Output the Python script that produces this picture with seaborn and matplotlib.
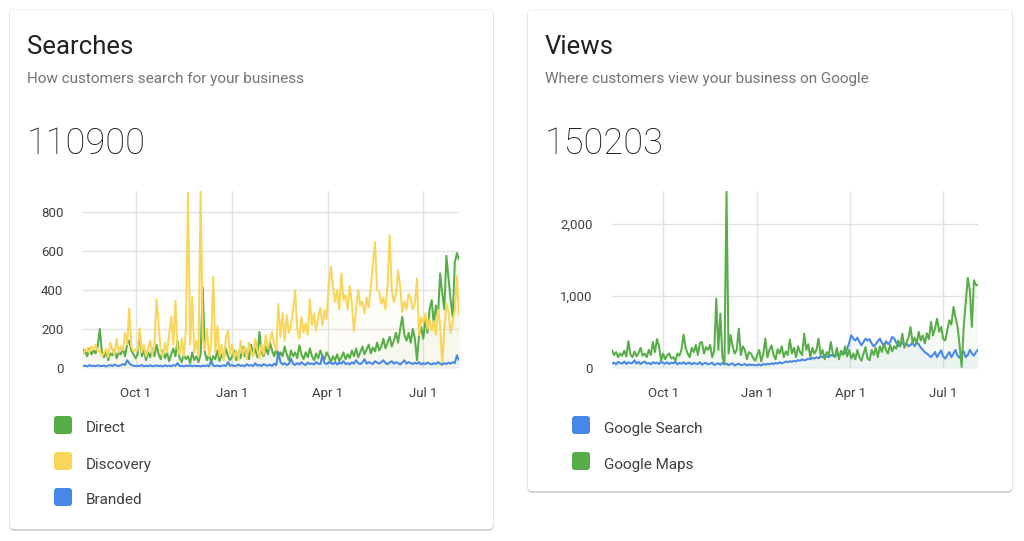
import numpy as np
import pandas as pd
import matplotlib
matplotlib.use("Agg")
import matplotlib.pyplot as plt
from matplotlib.patches import FancyBboxPatch
from matplotlib.ticker import FuncFormatter
import seaborn as sns

# ── data (one point every 2 days) ─────────────────────────
START = "2019-08-12"
STEP  = "2D"

direct = [95, 85, 60, 100, 70, 90, 75, 110, 200, 80, 55, 90, 40, 75, 65, 95, 50, 80, 70, 100,
          60, 120, 140, 90, 70, 50,
          70, 185, 60, 90, 40, 80, 55, 100, 60, 120, 70, 45, 90, 50, 80, 35, 70, 100, 60, 140,
          50, 30, 70, 45, 60, 25, 80, 40, 60, 30, 70, 412, 80, 40, 70, 30, 60, 45, 90, 35,
          70, 50, 100, 60, 40,
          60, 90, 40, 80, 50, 110, 60, 90, 45, 120, 70, 100, 55, 185, 80, 60, 110, 70, 130, 90,
          60, 100, 50, 80, 60, 110, 70, 40, 90, 60, 80, 50, 116, 70, 45, 80, 55, 100, 60, 40,
          75, 50, 90, 60, 45, 80, 60,
          30, 60, 40, 70, 35, 55, 80, 45, 70, 50, 90, 60, 100, 55, 80, 110, 70, 95, 120, 75,
          105, 85, 130, 90, 110, 150, 100, 130, 160, 110, 140, 180, 130, 200, 262, 170, 140, 180, 130, 200,
          150, 40, 170, 210, 150, 250, 180, 300, 347, 220, 320, 260, 484, 385, 300, 574, 460, 350, 262, 540,
          588, 555]

discovery = [70, 90, 100, 80, 110, 95, 120, 85, 90, 60, 75, 100, 55, 130, 90, 70, 150, 80, 110, 90,
             180, 120, 305, 110, 85, 95,
             90, 203, 80, 120, 60, 100, 140, 70, 110, 352, 225, 90, 60, 130, 80, 170, 262, 120, 344, 100,
             70, 150, 60, 200, 896, 120, 364, 80, 140, 60, 910, 150, 90, 200, 60, 130, 467, 80, 215, 60,
             120, 40, 150, 190, 70,
             120, 50, 90, 40, 140, 70, 110, 45, 130, 80, 60, 150, 90, 50, 120, 70, 168, 100, 140, 185,
             120, 90, 327, 160, 280, 140, 270, 180, 220, 296, 398, 200, 150, 260, 180, 230, 170, 350, 220, 280,
             190, 260, 310, 220, 296, 250, 430,
             518, 420, 338, 400, 300, 484, 350, 373, 300, 420, 330, 188, 300, 400, 320, 340, 280, 360, 310, 420,
             527, 646, 400, 390, 330, 360, 300, 420, 680, 400, 338, 380, 500, 420, 287, 340, 300, 380, 356, 300,
             330, 458, 168, 260, 230, 280, 200, 250, 190, 240, 170, 300, 220, 14, 200, 330, 287, 180, 233, 300,
             470, 278]

branded = [10, 12, 8, 15, 10, 12, 9, 14, 11, 10, 13, 8, 12, 15, 10, 18, 12, 10, 14, 20,
           15, 40, 25, 15, 12, 10,
           12, 10, 15, 8, 12, 10, 14, 9, 11, 13, 10, 12, 8, 14, 10, 12, 9, 15, 11, 25,
           10, 12, 8, 13, 10, 14, 9, 12, 10, 11, 8, 12, 10, 14, 9, 35, 12, 10, 13, 9,
           11, 14, 10, 30, 12,
           15, 10, 12, 18, 10, 14, 9, 20, 12, 15, 10, 25, 12, 16, 10, 20, 14, 12, 18, 10,
           22, 15, 82, 30, 18, 25, 15, 20, 48, 22, 16, 25, 18, 30, 20, 15, 28, 20, 24, 18,
           30, 22, 20, 65, 25, 20, 30,
           25, 20, 30, 18, 28, 22, 35, 20, 25, 18, 30, 22, 40, 25, 20, 28, 45, 22, 30, 25,
           20, 35, 28, 22, 30, 40, 25, 20, 28, 35, 22, 30, 25, 18, 28, 40, 22, 30, 25, 20,
           28, 22, 30, 18, 25, 20, 28, 22, 18, 25, 20, 30, 22, 18, 25, 20, 28, 22, 30, 25,
           65, 40]

google_search = [60, 75, 50, 85, 70, 60, 90, 55, 80, 65, 70, 107, 60, 85, 55, 75, 90, 60, 70, 50,
                 80, 65, 75, 55, 90, 70, 60, 80, 55, 75, 65, 85, 50, 70, 60, 80, 55, 65, 75, 50,
                 70, 60, 55, 80, 45, 65, 70, 50, 60, 75, 40, 55, 65, 45, 70, 50, 60, 40, 55, 65,
                 35, 50, 60, 40, 45, 55, 35, 50, 40, 45, 37,
                 40, 50, 35, 55, 45, 60, 50, 65, 55, 70, 60, 80, 65, 75, 90, 80, 95, 85, 100, 90,
                 110, 100, 120, 105, 115, 130, 120, 140, 130, 148, 135, 160, 150, 176, 160, 150, 180, 170, 160, 190,
                 176, 200, 222, 200, 260, 350, 453,
                 407, 380, 420, 360, 314, 360, 407, 380, 400, 340, 299, 330, 370, 407, 350, 300, 370, 330, 360, 430,
                 410, 350, 300, 330, 350, 310, 340, 300, 320, 350, 300, 360, 330, 280, 250, 220, 200, 176, 150, 180,
                 222, 150, 200, 245, 160, 130, 180, 220, 150, 200, 250, 170, 140, 200, 230, 150, 180, 250, 200, 170,
                 220, 254]

google_maps = [250, 180, 220, 150, 200, 170, 240, 160, 371, 190, 150, 230, 160, 210, 280, 170, 200, 150, 250, 180,
               361, 220, 400, 300, 107, 200,
               120, 180, 200, 130, 150, 100, 200, 170, 260, 462, 280, 200, 150, 280, 220, 320, 180, 350, 360, 200,
               290, 250, 320, 150, 240, 961, 250, 753, 150, 60, 2450, 200, 457, 300, 200, 250, 545, 180, 300, 250,
               120, 220, 200, 140, 100,
               180, 250, 90, 200, 407, 150, 250, 314, 180, 120, 260, 200, 300, 150, 230, 180, 393, 200, 280, 150,
               300, 220, 180, 476, 250, 330, 150, 280, 200, 250, 407, 180, 250, 120, 220, 180, 361, 200, 150, 280,
               120, 240, 180, 300, 160, 250, 130,
               200, 120, 250, 150, 100, 200, 290, 130, 107, 250, 180, 280, 150, 300, 222, 337, 250, 200, 320, 230,
               300, 268, 380, 300, 476, 280, 350, 420, 568, 350, 420, 337, 500, 380, 450, 340, 480, 400, 637, 450,
               550, 683, 500, 570, 400, 383, 520, 660, 600, 845, 700, 568, 320, 14, 568, 900, 1247, 1076, 568, 1215,
               1150, 1146]

tick_dates  = ["2019-10-01", "2020-01-01", "2020-04-01", "2020-07-01"]
tick_labels = ["Oct 1", "Jan 1", "Apr 1", "Jul 1"]

GREEN, YELLOW, BLUE = "#57ad47", "#f9d659", "#4787e8"

cards = [
    dict(title="Searches", sub="How customers search for your business", total="110900",
         series=[("Direct", direct, GREEN), ("Discovery", discovery, YELLOW), ("Branded", branded, BLUE)],
         box=(10, 10, 483, 519), ax_px=(83, 459), ylim=906, yticks=[0, 200, 400, 600, 800]),
    dict(title="Views", sub="Where customers view your business on Google", total="150203",
         series=[("Google Search", google_search, BLUE), ("Google Maps", google_maps, GREEN)],
         box=(528, 10, 484, 481), ax_px=(612, 978), ylim=2450, yticks=[0, 1000, 2000]),
]

# ── figure ────────────────────────────────────────────────
sns.set_theme(style="white")
plt.rcParams["font.family"] = ["Roboto", "DejaVu Sans"]
W, H = 1024, 541
fig = plt.figure(figsize=(W / 100, H / 100), dpi=100)
fig.patch.set_facecolor("white")

bg = fig.add_axes([0, 0, 1, 1], zorder=0)
bg.set_xlim(0, W); bg.set_ylim(H, 0); bg.axis("off")

Y_TOP, Y_BOT = 191, 368

for c in cards:
    x, y, w, h = c["box"]
    # card shadow + card
    bg.add_patch(FancyBboxPatch((x - 1, y - 0.5), w + 2, h + 2.5, boxstyle="round,pad=0,rounding_size=5",
                                fc="#e6e6e6", ec="none"))
    bg.add_patch(FancyBboxPatch((x, y + 1.5), w, h, boxstyle="round,pad=0,rounding_size=4",
                                fc="#cfcfcf", ec="none"))
    bg.add_patch(FancyBboxPatch((x, y), w, h, boxstyle="round,pad=0,rounding_size=4",
                                fc="white", ec="none"))
    tx = x + 17
    bg.text(tx, 54, c["title"], fontsize=18.5, color="#202124", va="baseline")
    bg.text(tx, 82.5, c["sub"], fontsize=11, color="#70757a", va="baseline")
    bg.text(tx, 154, c["total"], fontsize=26, color="#202124", fontweight="light", va="baseline")

    # legend
    for k, (name, _, col) in enumerate(c["series"]):
        cy = 425 + 36 * k
        bg.add_patch(FancyBboxPatch((x + 44, cy - 9), 18, 18, boxstyle="round,pad=0,rounding_size=3",
                                    fc=col, ec="none"))
        bg.text(x + 76, cy + 7.5, name, fontsize=11, color="#3c4043", va="baseline")

    # chart
    x0, x1 = c["ax_px"]
    ax = fig.add_axes([x0 / W, (H - Y_BOT) / H, (x1 - x0) / W, (Y_BOT - Y_TOP) / H], zorder=2)
    ax.set_facecolor("none")
    for name, vals, col in c["series"]:
        df = pd.DataFrame({"date": pd.date_range(START, periods=len(vals), freq=STEP), "value": vals})
        ax.fill_between(df["date"], df["value"], color=col, alpha=0.05, lw=0)
        sns.lineplot(data=df, x="date", y="value", color=col, lw=1.45, ax=ax)
    ax.set_xlim(pd.Timestamp(START), pd.Timestamp(START) + pd.Timedelta(days=358))
    ax.set_ylim(0, c["ylim"])
    ax.set_yticks(c["yticks"])
    ax.yaxis.set_major_formatter(FuncFormatter(lambda v, p: f"{int(v):,}"))
    ax.set_xticks(pd.to_datetime(tick_dates))
    ax.set_xticklabels(tick_labels)
    ax.set_xlabel(""); ax.set_ylabel("")
    ax.grid(True, color="#e2e2e2", lw=1)
    for s in ax.spines.values():
        s.set_visible(False)
    ax.tick_params(length=0, labelsize=9.5, colors="#3c4043")
    ax.tick_params(axis="x", pad=14)
    ax.tick_params(axis="y", pad=14)

fig.savefig("out.png", dpi=100, facecolor="white")
